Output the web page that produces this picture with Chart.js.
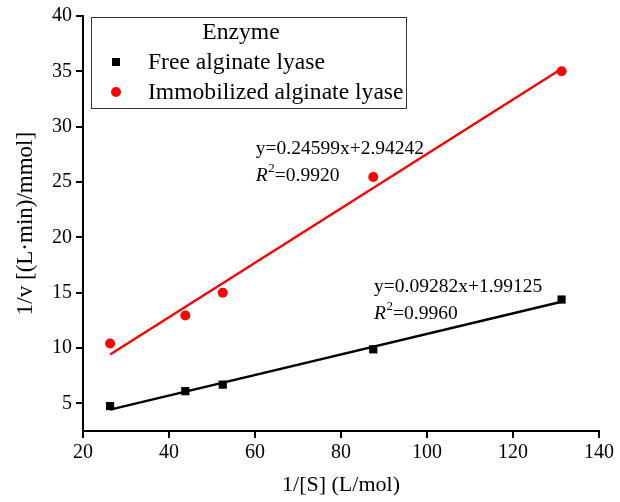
<!DOCTYPE html>
<html>
<head>
<meta charset="utf-8">
<script src="https://cdn.jsdelivr.net/npm/chart.js@4"></script>
<style>
  html, body { margin: 0; padding: 0; background: #fff; }
  #wrap { width: 620px; height: 502px; position: relative; }
</style>
</head>
<body>
<div id="wrap"><canvas id="chart"></canvas></div>
<script>
// ---- data ----
var substrateInv = [26.3, 43.8, 52.5, 87.5, 131.3];       // 1/[S] (L/mol)
var freeVals = [4.75, 6.1, 6.69, 9.88, 14.38];            // free alginate lyase
var immobVals = [10.4, 12.93, 15.0, 25.45, 35.0];         // immobilized alginate lyase
var freeFit = { slope: 0.09282, intercept: 1.99125, r2: '0.9960' };
var immobFit = { slope: 0.24599, intercept: 2.94242, r2: '0.9920' };
var xTicks = [20, 40, 60, 80, 100, 120, 140];
var yTicks = [5, 10, 15, 20, 25, 30, 35, 40];
var seriesNames = ['Free alginate lyase', 'Immobilized alginate lyase'];

var FONT = '"Liberation Serif", "Times New Roman", serif';

function points(xs, ys) {
    return xs.map(function (x, i) { return { x: x, y: ys[i] }; });
}
function fitLine(fit) {
    var lo = Math.min.apply(null, substrateInv), hi = Math.max.apply(null, substrateInv);
    return [lo, hi].map(function (x) { return { x: x, y: fit.slope * x + fit.intercept }; });
}
function eqText(fit) {
    return 'y=' + fit.slope.toFixed(5) + 'x+' + fit.intercept.toFixed(5);
}

// legend box + fit equations drawn on top of the chart
var overlay = {
    id: 'overlay',
    afterDraw: function (chart) {
        var ctx = chart.ctx, xs = chart.scales.x, ys = chart.scales.y;
        ctx.save();

        // legend
        ctx.strokeStyle = '#333';
        ctx.lineWidth = 1;
        ctx.strokeRect(91.5, 17.5, 315, 91);
        ctx.fillStyle = '#000';
        ctx.font = '23.6px ' + FONT;
        ctx.textBaseline = 'middle';
        ctx.textAlign = 'center';
        ctx.fillText('Enzyme', 241, 33);
        ctx.textAlign = 'left';
        ctx.fillRect(112, 58, 8, 8);
        ctx.fillText(seriesNames[0], 148, 63);
        ctx.fillStyle = '#ff0000';
        ctx.beginPath();
        ctx.arc(116, 92, 5, 0, Math.PI * 2);
        ctx.fill();
        ctx.fillStyle = '#000';
        ctx.fillText(seriesNames[1], 148, 93);

        // equations
        function eq(fit, xVal, yVal) {
            var px = xs.getPixelForValue(xVal), py = ys.getPixelForValue(yVal);
            ctx.font = '19.5px ' + FONT;
            ctx.textAlign = 'left';
            ctx.textBaseline = 'middle';
            ctx.fillText(eqText(fit), px, py);
            var y2 = py + 27;
            ctx.font = 'italic 19.5px ' + FONT;
            ctx.fillText('R', px, y2);
            var w = ctx.measureText('R').width;
            ctx.font = '13px ' + FONT;
            ctx.fillText('2', px + w + 0.5, y2 - 7);
            var w2 = ctx.measureText('2').width;
            ctx.font = '19.5px ' + FONT;
            ctx.fillText('=' + fit.r2, px + w + w2 + 0.5, y2);
        }
        eq(immobFit, 60.2, 28.03);
        eq(freeFit, 87.7, 15.55);
        ctx.restore();
    }
};

var axisFont = { family: FONT, size: 20 };

new Chart(document.getElementById('chart'), {
    type: 'scatter',
    data: {
        datasets: [
            {
                label: seriesNames[0] + ' fit',
                data: fitLine(freeFit),
                showLine: true,
                borderColor: '#000',
                borderWidth: 2.4,
                pointRadius: 0
            },
            {
                label: seriesNames[1] + ' fit',
                data: fitLine(immobFit),
                showLine: true,
                borderColor: '#ff0000',
                borderWidth: 2.4,
                pointRadius: 0
            },
            {
                label: seriesNames[0],
                data: points(substrateInv, freeVals),
                pointStyle: 'rect',
                pointRadius: 5.8,
                backgroundColor: '#000',
                borderColor: '#000',
                borderWidth: 0
            },
            {
                label: seriesNames[1],
                data: points(substrateInv, immobVals),
                pointStyle: 'circle',
                pointRadius: 5,
                backgroundColor: '#ff0000',
                borderColor: '#ff0000',
                borderWidth: 0
            }
        ]
    },
    options: {
        responsive: true,
        maintainAspectRatio: false,
        animation: false,
        layout: { padding: { top: 14, right: 21, left: 8, bottom: 0 } },
        plugins: { legend: { display: false }, tooltip: { enabled: false } },
        scales: {
            x: {
                type: 'linear',
                min: 20,
                max: 140,
                afterBuildTicks: function (s) { s.ticks = xTicks.map(function (v) { return { value: v }; }); },
                afterFit: function (s) { s.height = 71; },
                border: { display: true, color: '#000', width: 2 },
                grid: { drawOnChartArea: false, drawTicks: true, tickLength: 7, color: '#000', lineWidth: 2 },
                ticks: { color: '#000', font: axisFont, padding: 3, maxRotation: 0 },
                title: { display: true, text: '1/[S] (L/mol)', color: '#000', font: { family: FONT, size: 22 } }
            },
            y: {
                type: 'linear',
                min: 2.5,
                max: 40,
                afterBuildTicks: function (s) { s.ticks = yTicks.map(function (v) { return { value: v }; }); },
                afterFit: function (s) { s.width = 75; },
                border: { display: true, color: '#000', width: 2 },
                grid: { drawOnChartArea: false, drawTicks: true, tickLength: 7, color: '#000', lineWidth: 2 },
                ticks: { color: '#000', font: axisFont, padding: 4 },
                title: { display: true, text: '1/v [(L·min)/mmol]', color: '#000', font: { family: FONT, size: 23 } }
            }
        }
    },
    plugins: [overlay]
});
</script>
</body>
</html>
